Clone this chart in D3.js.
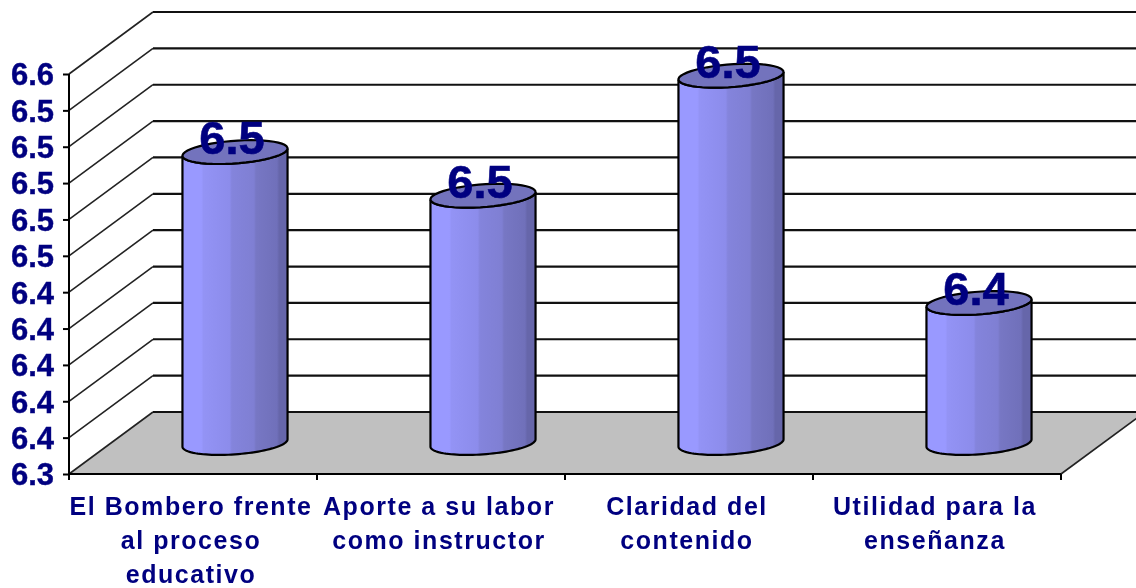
<!DOCTYPE html>
<html><head><meta charset="utf-8">
<script src="https://cdn.jsdelivr.net/npm/d3@7"></script>
<style>html,body{margin:0;padding:0;background:#fff}svg{display:block;filter:blur(.45px)}text{font-family:"Liberation Sans",Arial,sans-serif;font-weight:700;fill:#000080}</style>
</head><body><svg id="c" width="1136" height="588"></svg>
<script>
const categoryLines = [["El Bombero frente","al proceso","educativo"],["Aporte a su labor","como instructor"],["Claridad del","contenido"],["Utilidad para la","enseñanza"]];
const categories = categoryLines.map(l => l.join(" "));
const values = [6.5, 6.476, 6.542, 6.417];
const yTicks = [6.34,6.36,6.38,6.40,6.42,6.44,6.46,6.48,6.50,6.52,6.54,6.56];
const svg = d3.select("#c");
const dx = 84, dy = -62, W = 1136;
const y = d3.scaleLinear().domain([6.34,6.56]).range([474,74]);
const x = d3.scaleBand().domain(categories).range([69,1061]);
const fmt = d3.format(".1f");
const defs = svg.append("defs");
const grad = defs.append("linearGradient").attr("id","body");
[[0,"#9999ff"],[.18,"#9999ff"],[.2,"#9393f5"],[.45,"#8c8ceb"],[.47,"#8484dc"],[.68,"#7f7fd3"],[.7,"#7777c4"],[.9,"#7070ba"],[.92,"#6666aa"],[1,"#6666aa"]]
  .forEach(s => grad.append("stop").attr("offset",s[0]).attr("stop-color",s[1]));

// floor
svg.append("path").attr("fill","#c0c0c0")
  .attr("d",d3.line()([[x.range()[0],y(6.34)],[x.range()[1],y(6.34)],[x.range()[1]+dx,y(6.34)+dy],[x.range()[0]+dx,y(6.34)+dy]]));
// side lines, then back grid lines
svg.append("g").selectAll("path").data(yTicks).join("path")
  .attr("fill","none").attr("stroke","#222").attr("stroke-width",1.6)
  .attr("d",d => d3.line()([[x.range()[0],y(d)],[x.range()[0]+dx,y(d)+dy]]));
svg.append("g").selectAll("path").data(yTicks).join("path")
  .attr("fill","none").attr("stroke","#111").attr("stroke-width",2.2)
  .attr("d",d => d3.line()([[x.range()[0]+dx,y(d)+dy],[W+2,y(d)+dy]]));
svg.append("path").attr("fill","none").attr("stroke","#222").attr("stroke-width",1.6)
  .attr("d",d3.line()([[x.range()[1],y(6.34)],[x.range()[1]+dx,y(6.34)+dy]]));

// cylinders
const r1 = 50, rd = 20, sx = dx/104, sy = dy/104;
function rim(cx,cy,t){return [cx+r1*Math.cos(t)+rd*sx*Math.sin(t), cy+rd*sy*Math.sin(t)];}
const tangent = Math.atan2(rd*sx,r1);
const steps = d3.range(0,49);
function arcPts(cx,cy,a0,a1){return steps.map(i=>rim(cx,cy,a0+(a1-a0)*i/48));}
const line = d3.line();
const bars = svg.append("g").selectAll("g").data(categories).join("g");
bars.each(function(c,i){
  const g = d3.select(this);
  const cx = x(c)+x.bandwidth()/2+dx/2;
  const by = y(6.34)+dy/2, ty = y(values[i])+dy/2;
  const lowerBottom = arcPts(cx,by,tangent,tangent-Math.PI);
  const lowerTop = arcPts(cx,ty,tangent-Math.PI,tangent);
  g.append("path").attr("fill","url(#body)").attr("stroke","#000").attr("stroke-width",2.2)
    .attr("d",line(lowerBottom.concat(lowerTop))+"Z");
  g.append("path").attr("fill","#7373bd").attr("stroke","#000").attr("stroke-width",2.2)
    .attr("d",line(arcPts(cx,ty,0,2*Math.PI))+"Z");
});
// value labels
svg.append("g").selectAll("text").data(categories).join("text")
  .attr("x",c=>x(c)+x.bandwidth()/2+dx/2-3)
  .attr("y",(c,i)=>y(values[i])+dy/2+2)
  .attr("text-anchor","middle").attr("font-size",47)
  .attr("stroke","#000080").attr("stroke-width",.6)
  .text((c,i)=>fmt(values[i]));

// y axis
const ya = svg.append("g").attr("transform",`translate(${x.range()[0]},0)`)
  .call(d3.axisLeft(y).tickValues(yTicks).tickFormat(fmt).tickSize(6).tickPadding(8));
ya.selectAll("text").attr("font-size",31).attr("dy","0.35em").attr("x",-15)
  .attr("stroke","#000080").attr("stroke-width",.4);
ya.attr("font-family",null);
ya.selectAll("line").attr("stroke","#000").attr("stroke-width",2);
ya.select(".domain").attr("stroke","#000").attr("stroke-width",2).attr("d",`M0,${y(6.56)}V${y(6.34)}`);

// x axis
const xa = svg.append("g").attr("transform",`translate(0,${y(6.34)})`)
  .call(d3.axisBottom(x).tickSize(0).tickFormat(""));
xa.select(".domain").attr("stroke","#000").attr("stroke-width",2).attr("d",`M${x.range()[0]},0H${x.range()[1]}`);
xa.selectAll(".tk").data(categories.map(c=>x(c)).concat(x.range()[1])).join("line").attr("class","tk")
  .attr("x1",d=>d).attr("x2",d=>d).attr("y1",0).attr("y2",6).attr("stroke","#000").attr("stroke-width",2);
const lab = svg.append("g").selectAll("text").data(categories).join("text")
  .attr("text-anchor","middle").attr("font-size",25).attr("letter-spacing",1.55);
lab.each(function(c,i){
  d3.select(this).selectAll("tspan").data(categoryLines[i]).join("tspan")
    .attr("x",x(c)+x.bandwidth()/2-2).attr("y",(d,k)=>514.5+k*34).text(d=>d);
});
</script></body></html>
